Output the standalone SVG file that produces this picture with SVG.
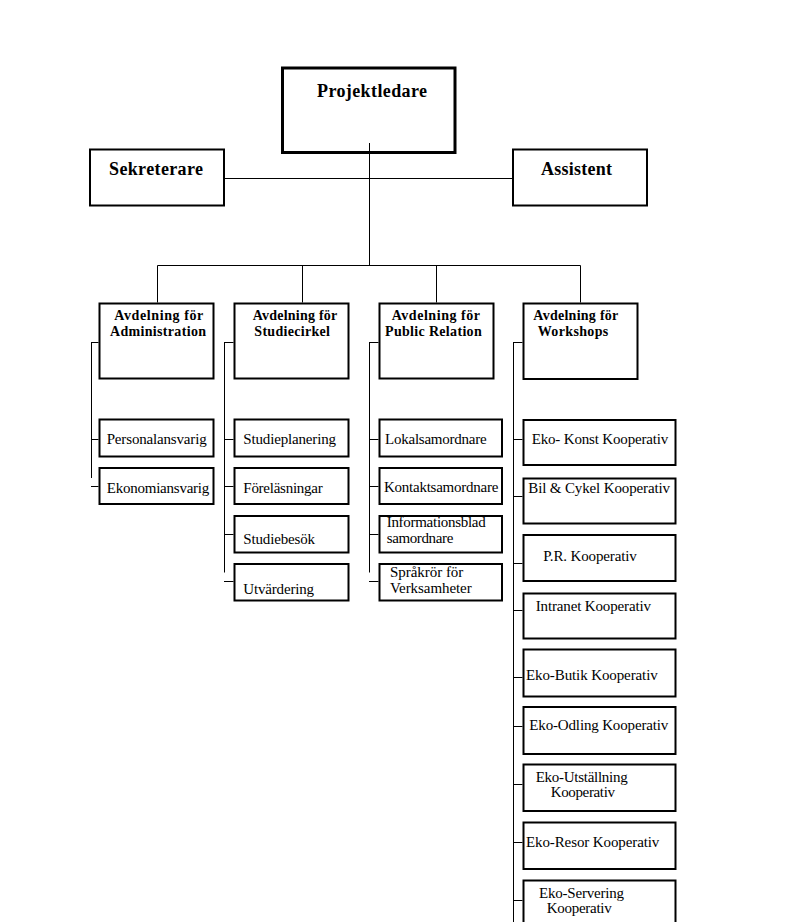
<svg xmlns="http://www.w3.org/2000/svg" width="795" height="922" viewBox="0 0 795 922">
<style>
.box{fill:#fff;stroke:#000;stroke-width:2}
.main{fill:#fff;stroke:#000;stroke-width:3}
.ln{fill:none;stroke:#000;stroke-width:1}
.tb{font-family:"Liberation Serif","Times New Roman",serif;font-weight:bold;font-size:18px;fill:#000}
.th{font-family:"Liberation Serif","Times New Roman",serif;font-weight:bold;font-size:14px;fill:#000}
.t{font-family:"Liberation Serif","Times New Roman",serif;font-size:15px;fill:#000}
</style>
<rect width="795" height="922" fill="#fff"/>
<g id="projektledare"><rect class="main" x="282.5" y="68" width="172.5" height="84.5"/><text class="tb" x="317" y="97" textLength="110" lengthAdjust="spacing">Projektledare</text></g>
<g id="sekreterare"><rect class="box" x="90" y="149.5" width="134" height="56"/><text class="tb" x="109" y="175" textLength="94" lengthAdjust="spacing">Sekreterare</text></g>
<g id="assistent"><rect class="box" x="513" y="149.5" width="134" height="56"/><text class="tb" x="541" y="175" textLength="71" lengthAdjust="spacing">Assistent</text></g>

<g id="avd-admin"><rect class="box" x="99.5" y="303.5" width="114" height="75"/><text class="th" x="114.3" y="320" textLength="89" lengthAdjust="spacing">Avdelning för</text><text class="th" x="110" y="335.7" textLength="96" lengthAdjust="spacing">Administration</text></g>
<g id="avd-studie"><rect class="box" x="234.5" y="303.5" width="114" height="75"/><text class="th" x="252.7" y="320" textLength="84.6" lengthAdjust="spacing">Avdelning för</text><text class="th" x="254.3" y="335.7" textLength="75.7" lengthAdjust="spacing">Studiecirkel</text></g>
<g id="avd-pr"><rect class="box" x="379.5" y="303.5" width="114" height="75"/><text class="th" x="391.7" y="320" textLength="88.3" lengthAdjust="spacing">Avdelning för</text><text class="th" x="385" y="335.7" textLength="96.7" lengthAdjust="spacing">Public Relation</text></g>
<g id="avd-workshops"><rect class="box" x="523.5" y="303.5" width="114" height="75.5"/><text class="th" x="533.3" y="320" textLength="85" lengthAdjust="spacing">Avdelning för</text><text class="th" x="537.7" y="335.7" textLength="70.6" lengthAdjust="spacing">Workshops</text></g>

<g id="personalansvarig"><rect class="box" x="99.5" y="419.5" width="114" height="37"/><text class="t" x="106.7" y="444" textLength="100" lengthAdjust="spacing">Personalansvarig</text></g>
<g id="ekonomiansvarig"><rect class="box" x="99.5" y="468" width="114" height="36"/><text class="t" x="106.7" y="493.3" textLength="102.6" lengthAdjust="spacing">Ekonomiansvarig</text></g>

<g id="studieplanering"><rect class="box" x="234.5" y="419.5" width="114" height="37"/><text class="t" x="243.3" y="444" textLength="92.7" lengthAdjust="spacing">Studieplanering</text></g>
<g id="forelasningar"><rect class="box" x="234.5" y="468" width="114" height="36"/><text class="t" x="243.3" y="493.3" textLength="79.4" lengthAdjust="spacing">Föreläsningar</text></g>
<g id="studiebesok"><rect class="box" x="234.5" y="516" width="114" height="36.5"/><text class="t" x="243.3" y="544.3" textLength="71.7" lengthAdjust="spacing">Studiebesök</text></g>
<g id="utvardering"><rect class="box" x="234.5" y="564" width="114" height="36.5"/><text class="t" x="243.3" y="594.3" textLength="70.7" lengthAdjust="spacing">Utvärdering</text></g>

<g id="lokalsamordnare"><rect class="box" x="379.5" y="419.5" width="122.5" height="37"/><text class="t" x="385" y="444" textLength="101.7" lengthAdjust="spacing">Lokalsamordnare</text></g>
<g id="kontaktsamordnare"><rect class="box" x="379.5" y="468" width="122.5" height="36"/><text class="t" x="384" y="492.3" textLength="114.3" lengthAdjust="spacing">Kontaktsamordnare</text></g>
<g id="informationsblad"><rect class="box" x="379.5" y="516" width="122.5" height="36.5"/><text class="t" x="386.7" y="527.3" textLength="99" lengthAdjust="spacing">Informationsblad</text><text class="t" x="386.7" y="543.3" textLength="66.6" lengthAdjust="spacing">samordnare</text></g>
<g id="sprakror"><rect class="box" x="379.5" y="564" width="122.5" height="36.5"/><text class="t" x="390" y="576.7" textLength="73.3" lengthAdjust="spacing">Språkrör för</text><text class="t" x="390" y="592.7" textLength="81.7" lengthAdjust="spacing">Verksamheter</text></g>

<g id="eko-konst"><rect class="box" x="523.5" y="420" width="152" height="45"/><text class="t" x="531.7" y="444" textLength="136.6" lengthAdjust="spacing">Eko- Konst Kooperativ</text></g>
<g id="bil-cykel"><rect class="box" x="523.5" y="478.5" width="152" height="45"/><text class="t" x="528.3" y="493.3" textLength="141.7" lengthAdjust="spacing">Bil &amp; Cykel Kooperativ</text></g>
<g id="pr-koop"><rect class="box" x="523.5" y="535" width="152" height="46"/><text class="t" x="543.3" y="560.7" textLength="93.4" lengthAdjust="spacing">P.R. Kooperativ</text></g>
<g id="intranet"><rect class="box" x="523.5" y="593.5" width="152" height="45"/><text class="t" x="535.7" y="611" textLength="115.3" lengthAdjust="spacing">Intranet Kooperativ</text></g>
<g id="eko-butik"><rect class="box" x="523.5" y="649.5" width="152" height="47"/><text class="t" x="526" y="680" textLength="131.7" lengthAdjust="spacing">Eko-Butik Kooperativ</text></g>
<g id="eko-odling"><rect class="box" x="523.5" y="707" width="152" height="47"/><text class="t" x="529.3" y="730" textLength="139" lengthAdjust="spacing">Eko-Odling Kooperativ</text></g>
<g id="eko-utstallning"><rect class="box" x="523.5" y="764.5" width="152" height="46.5"/><text class="t" x="535.7" y="781.7" textLength="92" lengthAdjust="spacing">Eko-Utställning</text><text class="t" x="550.7" y="796.7" textLength="64.3" lengthAdjust="spacing">Kooperativ</text></g>
<g id="eko-resor"><rect class="box" x="523.5" y="822.5" width="152" height="46.5"/><text class="t" x="526" y="847.3" textLength="133.3" lengthAdjust="spacing">Eko-Resor Kooperativ</text></g>
<g id="eko-servering"><rect class="box" x="523.5" y="880.5" width="152" height="60"/><text class="t" x="539" y="898.3" textLength="85" lengthAdjust="spacing">Eko-Servering</text><text class="t" x="546.7" y="913.3" textLength="65" lengthAdjust="spacing">Kooperativ</text></g>

<g id="connectors">
<path class="ln" d="M369.5 143V265.5M225 178.5H512M157.5 265.5H580.5M157.5 265.5V302.5M302.5 265.5V302.5M436.5 265.5V302.5M580.5 265.5V302.5"/>
<path class="ln" d="M91.5 342.5V478M91 342.5H98.5M91 439.5H98.5M91 486.5H98.5"/>
<path class="ln" d="M224.5 342.5V572.5M224 342.5H233.5M224 439.5H233.5M224 486.5H233.5M224 534.5H233.5M224 581.5H233.5"/>
<path class="ln" d="M369.5 342.5V572.5M369 342.5H378.5M369 439.5H378.5M369 486.5H378.5M369 534.5H378.5M369 581.5H378.5"/>
<path class="ln" d="M513.5 342.5V922M513 342.5H522.5M513 439.5H522.5M513 496.5H522.5M513 563.5H522.5M513 610.5H522.5M513 677.5H522.5M513 726.5H522.5M513 784.5H522.5M513 842.5H522.5M513 900.5H522.5"/>
</g>
</svg>
